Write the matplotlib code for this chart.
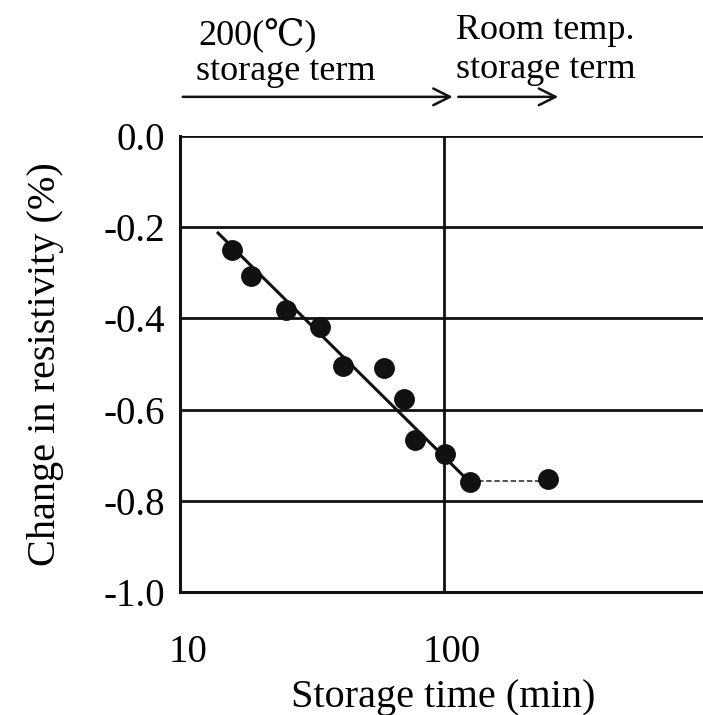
import numpy as np
import matplotlib
matplotlib.use("Agg")
import matplotlib.pyplot as plt
import matplotlib.transforms as mtransforms

plt.rcParams['font.family'] = ['Liberation Serif', 'DejaVu Serif', 'Noto Sans CJK JP']

# measured points
storage_time = [15.8, 18.6, 25.3, 34.0, 41.7, 59.2, 70.5, 77.6, 101, 125.6, 248]
resist_change = [-0.250, -0.307, -0.382, -0.419, -0.504, -0.509, -0.577, -0.667, -0.697, -0.759, -0.752]

# fitted trend line (200C term) and room temp. link
fit_x = [13.95, 125.6]
fit_y = [-0.213, -0.759]
room_x = [125.6, 248]
room_y = [-0.757, -0.757]

yticks = [0.0, -0.2, -0.4, -0.6, -0.8, -1.0]
ytick_labels = ['0.0', '-0.2', '-0.4', '-0.6', '-0.8', '-1.0']
xticks = [10, 100]
xtick_labels = ['10', '100']

ink = '#111111'

fig = plt.figure(figsize=(7.03, 7.15), dpi=100)
ax = fig.add_axes([0.256, 0.172, 0.75, 0.638])

ax.set_xscale('log')
ax.set_xlim(10, 1000)
ax.set_ylim(-1.0, 0.0)

for y in yticks:
    ax.axhline(y, color=ink, lw=2.0, zorder=1)
ax.axvline(100, color=ink, lw=2.0, zorder=1)

ax.plot(fit_x, fit_y, color=ink, lw=2.2, zorder=2)
ax.plot(room_x, room_y, color='#444444', lw=1.3, ls=(0, (3, 1.5)), zorder=2)
ax.plot(storage_time, resist_change, 'o', color=ink, markersize=14, zorder=3)

ax.set_yticks(yticks)
ax.set_yticklabels(ytick_labels, fontsize=28)
ax.set_xticks(xticks)
ax.set_xticklabels(xtick_labels, fontsize=28)
ax.minorticks_off()
ax.tick_params(axis='y', length=0, pad=11)
ax.tick_params(axis='x', length=0, pad=30)
shift = mtransforms.ScaledTranslation(8 / 100, 0, fig.dpi_scale_trans)
for lab in ax.get_xticklabels():
    lab.set_transform(lab.get_transform() + shift)

for s in ['right', 'top']:
    ax.spines[s].set_visible(False)
for s in ['left', 'bottom']:
    ax.spines[s].set_linewidth(2.2)
    ax.spines[s].set_color(ink)

ax.set_xlabel('Storage time (min)', fontsize=29, labelpad=6)
ax.set_ylabel('Change in resistivity (%)', fontsize=29, labelpad=28)

# storage term arrows above the plot
arr = dict(arrowstyle='->', color=ink, lw=1.8, mutation_scale=30)
ax.annotate('', xy=(111, 0.0855), xytext=(10, 0.0855), xycoords='data',
            arrowprops=arr, annotation_clip=False)
ax.annotate('', xy=(279, 0.0855), xytext=(111, 0.0855), xycoords='data',
            arrowprops=arr, annotation_clip=False)

ax.text(11.7, 0.221, '200(\u2103)', fontsize=26, va='center', ha='left', clip_on=False)
ax.text(11.5, 0.140, 'storage term', fontsize=26, va='center', ha='left', clip_on=False)
ax.text(111, 0.232, 'Room temp.', fontsize=26, va='center', ha='left', clip_on=False)
ax.text(111, 0.145, 'storage term', fontsize=26, va='center', ha='left', clip_on=False)

fig.savefig('out.png', dpi=100)
